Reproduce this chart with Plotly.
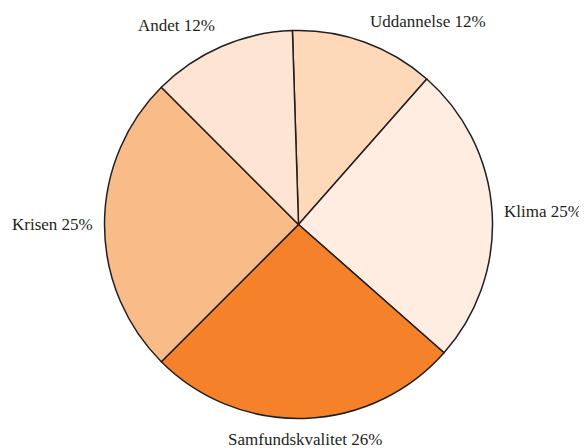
import math
import plotly.graph_objects as go

labels = ["Uddannelse", "Klima", "Samfundskvalitet", "Krisen", "Andet"]
values = [12, 25, 26, 25, 12]
colors = ["#FDD9BA", "#FEEDE0", "#F5822A", "#F9BB88", "#FEE5D3"]

# The page body has an 8px default margin, so the figure is sized to fill the
# remaining 587x448 viewport and positions are expressed in figure pixels.
PAGE_PAD = 8
W, H = 587 - PAGE_PAD, 448 - PAGE_PAD
CX, CY, R = 298.5 - PAGE_PAD, 224.5 - PAGE_PAD, 194.0   # pie centre / radius
ROT = -1.8                          # start angle (deg, clockwise from 12 o'clock)
GAP = 10                            # label distance outside the rim (px)
FONT = dict(family="Liberation Serif", size=17, color="#231F20")

fig = go.Figure(go.Pie(
    labels=labels,
    values=values,
    sort=False,
    direction="clockwise",
    rotation=ROT,
    marker=dict(colors=colors, line=dict(color="#231F20", width=1.5)),
    textinfo="none",
    showlegend=False,
    hoverinfo="label+percent",
    domain=dict(x=[(CX - R) / W, (CX + R) / W],
                y=[(H - (CY + R)) / H, (H - (CY - R)) / H]),
))

total = sum(values)
cum = 0.0
annotations = []
for lab, v in zip(labels, values):
    mid = ROT + (cum + v / 2) / total * 360.0
    cum += v
    t = math.radians(mid)
    s, c = math.sin(t), math.cos(t)
    px = CX + (R + GAP) * s
    py = CY - (R + GAP) * c
    xa = "left" if s > 0.2 else ("right" if s < -0.2 else "center")
    ya = "bottom" if c > 0.2 else ("top" if c < -0.2 else "middle")
    annotations.append(dict(
        x=px / W, y=1 - py / H, xref="paper", yref="paper",
        text=f"{lab} {round(v / total * 100)}%",
        showarrow=False, xanchor=xa, yanchor=ya, font=FONT,
    ))

fig.update_layout(
    width=W, height=H,
    margin=dict(l=0, r=0, t=0, b=0),
    paper_bgcolor="white",
    plot_bgcolor="white",
    annotations=annotations,
)
fig.write_html("out.html")
